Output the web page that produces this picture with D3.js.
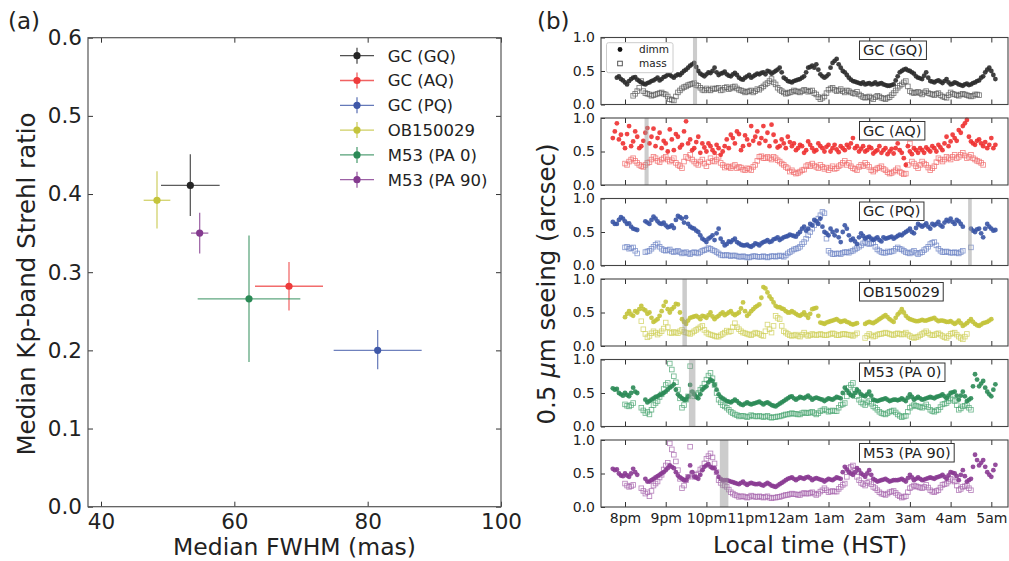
<!DOCTYPE html>
<html>
<head>
<meta charset="utf-8">
<script src="https://cdn.jsdelivr.net/npm/d3@7"></script>
<style>
  body { margin: 0; background: #fff; }
  text { font-family: "DejaVu Sans", sans-serif; fill: #222; }
</style>
</head>
<body>
<svg id="fig" width="1009" height="561"></svg>
<script>
// ---------- panel (a) data
var targets = ["GC (GQ)", "GC (AQ)", "GC (PQ)", "OB150029", "M53 (PA 0)", "M53 (PA 90)"];
var targetColors = ["#262626", "#ee3b3b", "#3f58a8", "#c4c43c", "#2b8a56", "#843a8f"];
var fwhm = [53.4, 68.2, 81.5, 48.4, 62.2, 54.8];
var fwhmErr = [4.4, 5.1, 6.6, 2.0, 7.7, 1.3];
var strehl = [0.411, 0.282, 0.200, 0.392, 0.266, 0.350];
var strehlErrHi = [0.040, 0.031, 0.026, 0.037, 0.081, 0.026];
var strehlErrLo = [0.039, 0.031, 0.024, 0.036, 0.081, 0.026];
var fwhmTicks = [40, 60, 80, 100];
var strehlTicks = [0.0, 0.1, 0.2, 0.3, 0.4, 0.5, 0.6];

// ---------- panel (b) data : seeing (arcsec), samples every 0.1 h,
// "Mid" arrays are the samples taken half way (0.05 h later)
var cadence = 0.1;
var hourTicks = [20, 21, 22, 23, 24, 25, 26, 27, 28, 29];
var hourLabels = ["8pm", "9pm", "10pm", "11pm", "12am", "1am", "2am", "3am", "4am", "5am"];
var seeingTicks = [0.0, 0.5, 1.0];
var dimmColors = ["#2b2b2b", "#ee3030", "#3a55a5", "#c3c33a", "#2a8a55", "#8a3a92"];
var massColors = ["#5a5a5a", "#f06a6a", "#6f86c6", "#cfcf5a", "#4ea874", "#a866ae"];
var dimmStart = [19.8, 19.7, 19.7, 20.0, 19.7, 19.7];
var massStart = [20.2, 20.0, 20.0, 20.4, 20.0, 20.0];
var bands = [[21.67, 21.77], [20.48, 20.58], [28.43, 28.52], [21.41, 21.52], [21.57, 21.73], [22.33, 22.54]];

var dimmGQ = [0.40,0.38,0.33,0.35,0.40,0.37,0.33,0.30,0.33,0.36,
  0.40,0.38,0.42,0.44,0.40,0.45,0.47,0.52,0.58,0.62,
  0.50,0.44,0.45,0.47,0.55,0.44,0.47,0.45,0.42,0.47,
  0.40,0.37,0.42,0.40,0.44,0.45,0.48,0.50,0.46,0.50,
  0.55,0.40,0.35,0.33,0.36,0.38,0.42,0.55,0.58,0.60,
  0.45,0.40,0.45,0.62,0.68,0.55,0.48,0.40,0.35,0.33,
  0.31,0.30,0.32,0.31,0.30,0.32,0.29,0.28,0.30,0.42,
  0.50,0.53,0.50,0.46,0.40,0.38,0.48,0.35,0.33,0.36,
  0.32,0.38,0.30,0.33,0.30,0.28,0.31,0.30,0.33,0.36,
  0.42,0.52,0.50,0.38];
var dimmGQMid = [0.42,0.36,0.30,0.38,0.41,0.35,0.31,0.32,0.35,0.38,
  0.36,0.41,0.45,0.42,0.43,0.44,0.50,0.55,0.60,0.56,
  0.46,0.42,0.48,0.50,0.48,0.46,0.49,0.43,0.45,0.44,
  0.38,0.40,0.44,0.42,0.46,0.47,0.45,0.49,0.48,0.52,
  0.48,0.38,0.34,0.35,0.37,0.40,0.48,0.56,0.55,0.52,
  0.42,0.42,0.55,0.65,0.60,0.50,0.44,0.37,0.34,0.32,
  0.33,0.31,0.30,0.33,0.31,0.30,0.28,0.29,0.36,0.48,
  0.52,0.51,0.48,0.42,0.39,0.43,0.40,0.34,0.35,0.34,
  0.35,0.33,0.31,0.32,0.29,0.30,0.29,0.32,0.35,0.40,
  0.48,0.55,0.44];
var massGQ = [0.13,0.20,0.35,0.17,0.15,0.14,0.16,0.18,0.15,0.08,
  0.06,0.18,0.24,0.27,0.30,0.32,0.28,0.22,0.24,0.21,
  0.23,0.25,0.22,0.26,0.24,0.27,0.22,0.20,0.19,0.21,
  0.20,0.22,0.27,0.32,0.38,0.30,0.22,0.18,0.17,0.19,
  0.20,0.18,0.22,0.19,0.21,0.15,0.08,0.12,0.22,0.25,
  0.20,0.23,0.18,0.20,0.17,0.19,0.13,0.10,0.12,0.08,
  0.13,0.10,0.08,0.11,0.17,0.25,0.30,0.35,0.20,0.17,
  0.19,0.15,0.20,0.16,0.14,0.17,0.12,0.10,0.18,0.15,
  0.13,0.16,0.14,0.12,0.15,0.14];
var massGQMid = [0.16,0.25,0.20,0.16,0.13,0.15,0.17,0.16,0.12,0.07,
  0.12,0.21,0.26,0.29,0.31,0.29,0.25,0.21,0.22,0.24,
  0.24,0.21,0.25,0.23,0.26,0.24,0.21,0.18,0.20,0.18,
  0.23,0.25,0.30,0.35,0.33,0.25,0.20,0.16,0.18,0.21,
  0.19,0.20,0.21,0.20,0.17,0.11,0.10,0.17,0.24,0.22,
  0.21,0.20,0.21,0.18,0.16,0.15,0.11,0.11,0.10,0.11,
  0.12,0.09,0.10,0.14,0.21,0.28,0.33,0.27,0.18,0.18,
  0.17,0.18,0.17,0.15,0.16,0.14,0.11,0.14,0.16,0.14,
  0.15,0.15,0.13,0.13,0.15];

var dimmAQ = [0.70,0.92,0.75,0.55,0.88,0.65,0.72,0.58,0.78,0.62,
  0.84,0.70,0.55,0.62,0.83,0.52,0.72,0.60,0.95,0.68,
  0.55,0.72,0.62,0.50,0.58,0.48,0.55,0.50,0.68,0.75,
  0.62,0.76,0.58,0.68,0.88,0.72,0.62,0.88,0.78,0.90,
  0.65,0.58,0.62,0.72,0.58,0.52,0.60,0.48,0.65,0.55,
  0.52,0.58,0.50,0.60,0.55,0.53,0.58,0.52,0.56,0.70,
  0.58,0.54,0.50,0.57,0.47,0.52,0.48,0.55,0.50,0.47,
  0.62,0.48,0.30,0.50,0.55,0.48,0.52,0.56,0.50,0.55,
  0.60,0.52,0.72,0.65,0.70,0.82,0.88,0.97,0.65,0.60,
  0.68,0.58,0.55,0.70,0.60];
var dimmAQMid = [0.80,0.68,0.62,0.76,0.58,0.80,0.55,0.66,0.85,0.72,
  0.58,0.78,0.66,0.50,0.68,0.76,0.56,0.80,0.62,0.52,
  0.64,0.48,0.56,0.62,0.52,0.60,0.45,0.58,0.55,0.70,
  0.80,0.52,0.74,0.60,0.66,0.80,0.70,0.66,0.58,0.75,
  0.56,0.68,0.55,0.64,0.62,0.55,0.58,0.52,0.60,0.50,
  0.62,0.55,0.57,0.50,0.60,0.49,0.55,0.60,0.62,0.55,
  0.50,0.58,0.52,0.55,0.50,0.58,0.52,0.46,0.54,0.55,
  0.52,0.40,0.58,0.46,0.52,0.55,0.48,0.53,0.58,0.50,
  0.56,0.62,0.58,0.75,0.66,0.78,0.92,0.72,0.62,0.66,
  0.62,0.64,0.60,0.55];
var massAQ = [0.32,0.35,0.40,0.33,0.28,0.30,0.34,0.42,0.36,0.38,
  0.42,0.35,0.40,0.30,0.25,0.42,0.45,0.35,0.30,0.38,
  0.28,0.40,0.35,0.42,0.30,0.28,0.25,0.30,0.27,0.23,
  0.25,0.22,0.30,0.42,0.40,0.42,0.38,0.40,0.35,0.30,
  0.25,0.22,0.17,0.20,0.23,0.30,0.32,0.27,0.30,0.24,
  0.22,0.28,0.25,0.30,0.36,0.33,0.25,0.22,0.30,0.33,
  0.27,0.20,0.25,0.28,0.22,0.17,0.20,0.25,0.18,0.17,
  0.62,0.32,0.25,0.35,0.30,0.22,0.28,0.40,0.35,0.42,
  0.38,0.45,0.42,0.48,0.40,0.45,0.38,0.35,0.30];
var massAQMid = [0.30,0.38,0.36,0.30,0.27,0.33,0.38,0.40,0.34,0.40,
  0.38,0.37,0.33,0.28,0.35,0.40,0.38,0.32,0.35,0.32,
  0.34,0.36,0.38,0.33,0.26,0.27,0.28,0.25,0.26,0.22,
  0.24,0.27,0.36,0.43,0.40,0.40,0.42,0.37,0.32,0.27,
  0.20,0.19,0.18,0.22,0.28,0.28,0.29,0.25,0.27,0.26,
  0.25,0.24,0.28,0.33,0.30,0.28,0.24,0.27,0.28,0.30,
  0.22,0.23,0.26,0.24,0.19,0.18,0.22,0.20,0.16,0.30,
  0.35,0.28,0.30,0.32,0.26,0.25,0.34,0.38,0.38,0.40,
  0.42,0.40,0.45,0.44,0.42,0.40,0.36,0.33];

var dimmPQ = [0.65,0.62,0.72,0.66,0.63,0.55,0.53,null,0.66,0.62,
  0.73,0.66,0.62,0.60,0.58,0.56,0.74,0.70,0.72,0.58,
  0.55,0.50,0.40,0.35,0.42,0.38,0.55,0.35,0.32,0.35,
  0.40,0.33,0.30,0.31,0.28,0.33,0.30,0.35,0.38,0.36,
  0.40,0.38,0.42,0.44,0.45,0.43,0.50,0.58,0.55,0.60,
  0.66,0.70,0.50,0.45,0.50,0.52,0.35,0.60,0.45,0.40,
  0.32,0.48,0.40,0.43,0.38,0.42,0.36,0.40,0.42,0.40,
  0.44,0.45,0.50,0.55,0.48,0.62,0.58,0.63,0.55,0.60,
  0.65,0.58,0.68,0.70,0.62,0.66,0.58,null,0.55,0.50,
  0.55,0.42,0.62,0.55,0.53];
var dimmPQMid = [0.62,0.68,0.70,0.62,0.58,0.54,null,null,0.64,0.68,
  0.70,0.63,0.64,0.57,0.60,0.68,0.72,0.64,0.62,0.56,
  0.52,0.45,0.38,0.40,0.45,0.48,0.40,0.30,0.36,0.38,
  0.35,0.31,0.30,0.29,0.30,0.32,0.33,0.36,0.35,0.39,
  0.42,0.40,0.43,0.46,0.44,0.47,0.55,0.52,0.62,0.68,
  0.62,0.58,0.48,0.55,0.45,0.42,0.50,0.55,0.38,0.36,
  0.42,0.44,0.42,0.40,0.40,0.38,0.42,0.41,0.43,0.42,
  0.46,0.48,0.52,0.50,0.56,0.60,0.60,0.58,0.62,0.62,
  0.60,0.64,0.66,0.65,0.68,0.62,null,null,0.52,0.54,
  0.48,0.55,0.58,0.52];
var massPQ = [0.27,0.25,0.27,0.18,null,0.20,0.22,0.28,0.33,0.25,
  0.22,0.24,0.20,0.22,0.18,0.20,0.17,0.20,0.18,0.22,
  0.24,0.25,0.22,0.18,0.15,0.16,0.14,0.15,0.13,0.14,
  0.12,0.13,0.14,0.13,0.14,0.12,0.14,0.13,0.15,0.13,
  0.18,0.22,0.25,0.28,0.35,0.45,0.55,0.65,0.75,0.78,
  0.22,0.17,0.18,0.17,0.20,0.19,0.22,0.26,0.30,0.35,
  0.32,0.34,0.24,0.20,0.19,0.20,0.22,0.27,0.24,0.20,
  0.18,0.22,0.17,0.20,0.25,0.32,0.35,0.25,0.20,0.21,
  0.19,0.20,0.18,0.22,null,0.27];
var massPQMid = [0.28,0.26,0.22,null,null,0.21,0.25,0.31,0.28,0.23,
  0.23,0.21,0.21,0.20,0.19,0.18,0.19,0.19,0.20,0.23,
  0.26,0.23,0.20,0.16,0.15,0.15,0.15,0.14,0.13,0.13,
  0.12,0.14,0.13,0.13,0.13,0.13,0.14,0.14,0.14,0.15,
  0.20,0.24,0.26,0.32,0.40,0.50,0.60,0.70,0.80,0.40,
  0.19,0.17,0.18,0.19,0.20,0.21,0.24,0.28,0.33,0.33,
  0.33,0.28,0.22,0.19,0.21,0.21,0.25,0.25,0.22,0.19,
  0.20,0.19,0.19,0.23,0.28,0.34,0.30,0.22,0.20,0.20,
  0.19,0.19,0.20,null,null];

var dimmOB = [0.43,0.52,0.45,0.50,0.60,0.53,0.50,0.36,0.40,0.52,
  0.66,0.50,0.58,0.62,0.40,0.33,0.42,0.44,0.43,0.45,
  0.42,0.50,0.40,0.45,0.50,0.48,0.52,0.46,0.50,0.65,
  0.45,0.52,0.58,0.62,0.88,0.80,0.70,0.60,0.58,0.55,
  0.50,0.52,0.48,0.45,0.50,0.42,0.55,0.57,0.35,0.33,
  0.36,0.38,0.40,0.36,0.38,0.35,0.32,0.34,null,0.33,
  0.36,0.34,0.38,0.42,0.46,0.40,0.36,0.47,0.55,0.45,
  0.40,0.38,0.37,0.39,0.38,0.40,0.42,0.37,0.38,0.36,
  0.37,0.33,0.38,0.30,0.34,0.40,0.33,0.30,0.34,0.36,
  0.40];
var dimmOBMid = [0.48,0.47,0.52,0.55,0.55,0.48,0.42,0.38,0.45,0.60,
  0.55,0.55,0.63,0.50,0.36,0.38,0.43,0.45,0.40,0.44,
  0.46,0.44,0.43,0.48,0.46,0.50,0.48,0.48,0.56,0.52,
  0.48,0.55,0.60,0.72,0.86,0.74,0.65,0.58,0.56,0.52,
  0.50,0.50,0.46,0.47,0.46,0.48,0.56,0.45,0.34,0.35,
  0.37,0.39,0.38,0.37,0.36,0.33,0.33,null,null,0.35,
  0.35,0.36,0.40,0.44,0.43,0.38,0.42,0.50,0.50,0.42,
  0.39,0.37,0.38,0.38,0.39,0.41,0.39,0.38,0.37,0.36,
  0.35,0.35,0.34,0.32,0.37,0.36,0.31,0.32,0.35,0.38];
var massOB = [0.37,0.18,0.15,0.22,0.17,0.22,0.35,0.20,0.21,0.19,
  0.24,0.20,0.18,0.22,0.26,0.30,0.20,0.17,0.15,0.14,
  0.18,0.23,0.22,0.34,0.25,0.20,0.18,0.16,0.20,0.18,
  0.15,0.32,0.20,0.45,0.40,0.22,0.18,0.15,0.17,0.14,
  0.20,0.15,0.18,0.16,0.18,0.16,0.17,0.19,0.16,0.17,
  0.18,0.17,0.15,0.19,null,0.12,0.18,0.14,0.17,0.18,
  0.20,0.18,0.16,0.19,0.17,0.20,0.15,0.12,0.14,0.18,
  0.22,0.17,0.16,0.19,0.15,0.12,0.18,0.20,0.14,0.10,
  0.18];
var massOBMid = [0.25,0.13,0.19,0.20,0.19,0.26,0.28,0.19,0.20,0.22,
  0.21,0.19,0.20,0.24,0.28,0.24,0.18,0.16,0.14,0.16,
  0.20,0.21,0.28,0.28,0.22,0.19,0.17,0.18,0.19,0.16,
  0.22,0.25,0.30,0.42,0.30,0.20,0.16,0.16,0.15,0.17,
  0.17,0.16,0.17,0.17,0.17,0.16,0.18,0.18,0.16,0.18,
  0.17,0.16,0.17,null,null,0.15,0.16,0.15,0.18,0.19,
  0.19,0.17,0.18,0.18,0.18,0.17,0.13,0.13,0.16,0.20,
  0.19,0.16,0.18,0.17,0.13,0.15,0.19,0.17,0.12,0.14];

var dimmM53a = [0.57,0.56,0.48,0.50,0.45,0.58,0.50,null,0.40,0.38,
  0.42,0.45,0.48,0.52,0.58,0.63,0.48,0.42,0.40,0.62,
  0.48,0.42,0.55,0.60,0.70,0.62,0.48,0.42,0.38,0.36,
  0.40,0.35,0.32,0.36,0.33,0.35,0.37,0.33,0.36,0.32,
  0.30,0.34,0.38,0.42,0.45,0.40,0.44,0.42,0.46,0.40,
  0.43,0.41,0.38,0.42,0.40,0.44,0.42,0.58,0.50,0.45,
  0.55,0.48,0.45,0.52,0.40,0.38,0.40,0.42,0.38,0.40,
  0.39,0.42,0.38,0.48,0.40,0.44,0.40,0.42,0.44,0.42,
  0.45,0.48,0.42,0.50,0.52,0.40,0.52,0.38,0.42,0.78,
  0.60,0.68,0.52,0.45,0.63];
var dimmM53aMid = [0.55,0.50,0.46,0.47,0.50,0.52,null,null,0.36,0.40,
  0.44,0.47,0.50,0.55,0.60,0.55,0.45,0.40,0.45,0.52,
  0.44,0.48,0.58,0.66,0.68,0.55,0.44,0.40,0.37,0.38,
  0.38,0.33,0.34,0.34,0.34,0.36,0.35,0.35,0.34,0.31,
  0.32,0.36,0.40,0.44,0.42,0.42,0.43,0.44,0.43,0.42,
  0.42,0.40,0.40,0.41,0.42,0.43,0.50,0.54,0.47,0.50,
  0.52,0.46,0.48,0.46,0.39,0.39,0.41,0.40,0.39,0.40,
  0.40,0.40,0.43,0.44,0.42,0.42,0.41,0.43,0.43,0.44,
  0.46,0.45,0.46,0.51,0.46,0.46,0.45,0.40,0.60,0.70,
  0.64,0.58,0.48,0.55];
var massM53a = [0.33,0.30,0.35,null,0.28,0.20,0.18,0.32,0.38,0.48,
  0.62,0.94,0.75,0.55,0.28,0.40,0.90,0.45,0.50,0.58,
  0.70,0.80,0.62,0.40,0.32,0.28,0.22,0.18,0.15,0.16,
  0.14,0.17,0.15,0.16,0.14,0.16,0.13,0.14,0.15,0.17,
  0.18,0.20,0.19,0.18,0.21,0.20,0.22,0.18,0.23,0.26,
  0.22,0.24,0.23,0.32,0.35,0.58,0.65,0.45,0.36,0.32,
  0.38,0.30,0.25,0.20,0.18,0.22,0.24,0.18,0.14,0.16,
  0.28,0.32,0.30,0.28,0.33,0.25,0.22,0.25,0.33,0.35,
  0.42,0.38,0.25,0.30,0.32,0.25];
var massM53aMid = [0.31,0.32,null,null,0.24,0.22,0.25,0.35,0.44,0.56,
  0.65,0.85,0.66,0.42,0.32,0.45,0.50,0.48,0.55,0.64,
  0.76,0.72,0.50,0.36,0.30,0.25,0.20,0.17,0.16,0.15,
  0.15,0.16,0.15,0.15,0.15,0.14,0.14,0.15,0.16,0.18,
  0.19,0.19,0.18,0.20,0.20,0.21,0.20,0.20,0.24,0.24,
  0.23,0.23,0.28,0.33,0.45,0.62,0.55,0.40,0.34,0.36,
  0.34,0.28,0.22,0.19,0.20,0.23,0.21,0.16,0.15,0.22,
  0.30,0.31,0.29,0.30,0.29,0.23,0.24,0.29,0.34,0.38,
  0.40,0.32,0.27,0.31,0.28];

var dimmM53b = [0.57,0.56,0.47,0.50,0.45,0.57,0.48,null,0.42,0.38,
  0.42,0.46,0.50,0.55,0.62,0.58,0.47,0.42,0.40,0.62,
  0.45,0.42,0.55,0.62,0.60,0.58,0.45,0.40,0.40,0.38,
  0.36,0.34,0.38,0.33,0.36,0.34,0.35,0.32,0.36,0.32,
  0.30,0.34,0.38,0.42,0.44,0.40,0.44,0.42,0.45,0.40,
  0.43,0.41,0.38,0.42,0.40,0.44,0.42,0.60,0.52,0.48,
  0.58,0.50,0.45,0.55,0.42,0.38,0.40,0.42,0.38,0.40,
  0.40,0.42,0.38,0.48,0.40,0.44,0.40,0.42,0.44,0.42,
  0.45,0.48,0.42,0.52,0.50,0.40,0.55,0.38,0.42,0.78,
  0.62,0.70,0.52,0.45,0.63];
var dimmM53bMid = [0.55,0.50,0.46,0.47,0.50,0.52,null,null,0.38,0.40,
  0.44,0.48,0.52,0.58,0.60,0.52,0.44,0.40,0.45,0.52,
  0.44,0.48,0.60,0.64,0.58,0.52,0.42,0.40,0.39,0.37,
  0.35,0.36,0.35,0.35,0.35,0.34,0.33,0.34,0.34,0.31,
  0.32,0.36,0.40,0.43,0.42,0.42,0.43,0.44,0.43,0.42,
  0.42,0.40,0.40,0.41,0.42,0.43,0.52,0.56,0.50,0.52,
  0.55,0.48,0.50,0.48,0.40,0.39,0.41,0.40,0.39,0.40,
  0.41,0.40,0.43,0.44,0.42,0.42,0.41,0.43,0.43,0.44,
  0.46,0.45,0.47,0.51,0.46,0.48,0.46,0.40,0.60,0.70,
  0.66,0.60,0.48,0.55];
var massM53b = [0.35,0.30,0.33,null,0.28,0.20,0.16,0.32,0.38,0.48,
  0.62,0.95,0.78,0.55,0.28,0.40,0.90,0.45,0.50,0.58,
  0.72,0.80,0.65,0.40,0.33,0.30,0.22,0.18,0.15,0.16,
  0.14,0.17,0.15,0.16,0.14,0.16,0.13,0.14,0.15,0.17,
  0.18,0.20,0.19,0.18,0.21,0.20,0.22,0.18,0.23,0.28,
  0.22,0.24,0.23,0.30,0.35,0.58,0.62,0.45,0.36,0.32,
  0.38,0.30,0.25,0.20,0.18,0.22,0.24,0.18,0.14,0.16,
  0.28,0.32,0.30,0.28,0.33,0.25,0.22,0.25,0.33,0.35,
  0.42,0.38,0.25,0.30,0.32,0.25];
var massM53bMid = [0.32,0.31,null,null,0.24,0.22,0.24,0.35,0.44,0.56,
  0.66,0.86,0.68,0.42,0.32,0.45,0.50,0.48,0.56,0.65,
  0.76,0.74,0.52,0.36,0.32,0.26,0.20,0.17,0.16,0.15,
  0.15,0.16,0.15,0.15,0.15,0.14,0.14,0.15,0.16,0.18,
  0.19,0.19,0.18,0.20,0.20,0.21,0.20,0.20,0.25,0.25,
  0.23,0.23,0.27,0.33,0.45,0.60,0.54,0.40,0.34,0.36,
  0.34,0.28,0.22,0.19,0.20,0.23,0.21,0.16,0.15,0.22,
  0.30,0.31,0.29,0.30,0.29,0.23,0.24,0.29,0.34,0.38,
  0.40,0.32,0.27,0.31,0.28];

var dimmSeries = [dimmGQ, dimmAQ, dimmPQ, dimmOB, dimmM53a, dimmM53b];
var dimmMidSeries = [dimmGQMid, dimmAQMid, dimmPQMid, dimmOBMid, dimmM53aMid, dimmM53bMid];
var massSeries = [massGQ, massAQ, massPQ, massOB, massM53a, massM53b];
var massMidSeries = [massGQMid, massAQMid, massPQMid, massOBMid, massM53aMid, massM53bMid];

var svg = d3.select("#fig");

function styleAxis(g, size) {
  g.select(".domain").remove();
  g.selectAll(".tick line").attr("stroke", "#333").attr("stroke-width", 1);
  g.selectAll(".tick text").attr("font-size", size).attr("fill", "#222")
    .attr("font-family", "DejaVu Sans, sans-serif");
}

// turn a value list into {t, v} samples, skipping gaps
function samples(vals, t0) {
  return vals.map(function(v, k) { return {t: t0 + k * cadence, v: v}; })
    .filter(function(d) { return d.v !== null; });
}

// =================== panel (a)
var pa = {left: 88, right: 501, top: 37.7, bottom: 506.7};
var xA = d3.scaleLinear().domain([38.05, 100]).range([pa.left, pa.right]);
var yA = d3.scaleLinear().domain([0, 0.6]).range([pa.bottom, pa.top]);
var gA = svg.append("g");

gA.append("g").attr("transform", "translate(0," + pa.bottom + ")")
  .call(d3.axisBottom(xA).tickValues(fwhmTicks).tickSizeInner(-5).tickSizeOuter(0)
    .tickPadding(7).tickFormat(d3.format("d")))
  .call(styleAxis, 21.5);
gA.append("g").attr("transform", "translate(0," + pa.top + ")")
  .call(d3.axisTop(xA).tickValues(fwhmTicks).tickSizeInner(-5).tickSizeOuter(0).tickFormat(""))
  .call(styleAxis, 21.5);
gA.append("g").attr("transform", "translate(" + pa.left + ",0)")
  .call(d3.axisLeft(yA).tickValues(strehlTicks).tickSizeInner(-5).tickSizeOuter(0)
    .tickPadding(6).tickFormat(d3.format(".1f")))
  .call(styleAxis, 21.5);
gA.append("g").attr("transform", "translate(" + pa.right + ",0)")
  .call(d3.axisRight(yA).tickValues(strehlTicks).tickSizeInner(-5).tickSizeOuter(0).tickFormat(""))
  .call(styleAxis, 21.5);
gA.append("rect").attr("x", pa.left).attr("y", pa.top)
  .attr("width", pa.right - pa.left).attr("height", pa.bottom - pa.top)
  .attr("fill", "none").attr("stroke", "#555").attr("stroke-width", 1.2);

var pts = gA.selectAll(".pt").data(targets).enter().append("g");
pts.append("line")
  .attr("x1", function(d, i) { return xA(fwhm[i] - fwhmErr[i]); })
  .attr("x2", function(d, i) { return xA(fwhm[i] + fwhmErr[i]); })
  .attr("y1", function(d, i) { return yA(strehl[i]); })
  .attr("y2", function(d, i) { return yA(strehl[i]); })
  .attr("stroke", function(d, i) { return targetColors[i]; })
  .attr("stroke-width", 1.3).attr("opacity", 0.75);
pts.append("line")
  .attr("x1", function(d, i) { return xA(fwhm[i]); })
  .attr("x2", function(d, i) { return xA(fwhm[i]); })
  .attr("y1", function(d, i) { return yA(strehl[i] - strehlErrLo[i]); })
  .attr("y2", function(d, i) { return yA(strehl[i] + strehlErrHi[i]); })
  .attr("stroke", function(d, i) { return targetColors[i]; })
  .attr("stroke-width", 1.3).attr("opacity", 0.75);
pts.append("circle")
  .attr("cx", function(d, i) { return xA(fwhm[i]); })
  .attr("cy", function(d, i) { return yA(strehl[i]); })
  .attr("r", 3.6)
  .attr("fill", function(d, i) { return targetColors[i]; });

// legend (a)
var leg = gA.selectAll(".leg").data(targets).enter().append("g")
  .attr("transform", function(d, i) { return "translate(340," + (55.7 + 24.8 * i) + ")"; });
leg.append("line").attr("x1", 0).attr("x2", 34).attr("y1", 0).attr("y2", 0)
  .attr("stroke", function(d, i) { return targetColors[i]; }).attr("stroke-width", 1.3).attr("opacity", 0.8);
leg.append("line").attr("x1", 17).attr("x2", 17).attr("y1", -8).attr("y2", 8)
  .attr("stroke", function(d, i) { return targetColors[i]; }).attr("stroke-width", 1.3).attr("opacity", 0.8);
leg.append("circle").attr("cx", 17).attr("cy", 0).attr("r", 3.6)
  .attr("fill", function(d, i) { return targetColors[i]; });
leg.append("text").attr("x", 47.7).attr("y", 0).attr("dy", "0.36em")
  .attr("font-size", 16.5).text(function(d) { return d; });

gA.append("text").attr("transform", "translate(35,284) rotate(-90)")
  .attr("text-anchor", "middle").attr("font-size", 24.5).text("Median Kp-band Strehl ratio");
gA.append("text").attr("x", (pa.left + pa.right) / 2).attr("y", 555)
  .attr("text-anchor", "middle").attr("font-size", 23.5).text("Median FWHM (mas)");
gA.append("text").attr("x", 8).attr("y", 29).attr("font-size", 23).text("(a)");

// =================== panel (b)
var pb = {left: 601, right: 1008, top0: 37.5, step: 80.5, h: 67};
var xB = d3.scaleLinear().domain([19.41, 29.41]).range([pb.left, pb.right]);
var gB = svg.append("g");

dimmSeries.forEach(function(dimm, p) {
  var top = pb.top0 + pb.step * p;
  var yB = d3.scaleLinear().domain([0, 1]).range([top + pb.h, top]);
  var g = gB.append("g");

  var dimmPts = samples(dimm, dimmStart[p]).concat(samples(dimmMidSeries[p], dimmStart[p] + cadence / 2));
  var massPts = samples(massSeries[p], massStart[p]).concat(samples(massMidSeries[p], massStart[p] + cadence / 2));

  g.selectAll(".mass").data(massPts).enter().append("rect")
    .attr("x", function(d) { return xB(d.t) - 2.3; })
    .attr("y", function(d) { return yB(d.v) - 2.3; })
    .attr("width", 4.6).attr("height", 4.6)
    .attr("fill", "none").attr("stroke", massColors[p]).attr("stroke-width", 0.85).attr("opacity", 0.8);
  g.selectAll(".dimm").data(dimmPts).enter().append("circle")
    .attr("cx", function(d) { return xB(d.t); })
    .attr("cy", function(d) { return yB(d.v); })
    .attr("r", 2.4).attr("fill", dimmColors[p]).attr("opacity", 0.9);

  g.append("rect").attr("x", xB(bands[p][0])).attr("y", top)
    .attr("width", xB(bands[p][1]) - xB(bands[p][0])).attr("height", pb.h)
    .attr("fill", "#9a9a9a").attr("opacity", 0.5);

  g.append("g").attr("transform", "translate(0," + (top + pb.h) + ")")
    .call(d3.axisBottom(xB).tickValues(hourTicks).tickSizeInner(-5).tickSizeOuter(0).tickPadding(6)
      .tickFormat(function(d, i) { return p === 5 ? hourLabels[i] : ""; }))
    .call(styleAxis, 14);
  g.append("g").attr("transform", "translate(0," + top + ")")
    .call(d3.axisTop(xB).tickValues(hourTicks).tickSizeInner(-5).tickSizeOuter(0).tickFormat(""))
    .call(styleAxis, 14);
  g.append("g").attr("transform", "translate(" + pb.left + ",0)")
    .call(d3.axisLeft(yB).tickValues(seeingTicks).tickSizeInner(-4).tickSizeOuter(0).tickPadding(6)
      .tickFormat(d3.format(".1f")))
    .call(styleAxis, 14);
  g.append("rect").attr("x", pb.left).attr("y", top)
    .attr("width", pb.right - pb.left).attr("height", pb.h)
    .attr("fill", "none").attr("stroke", "#444").attr("stroke-width", 1.1);

  // target label box
  var box = g.append("rect");
  var lab = g.append("text").attr("x", 863).attr("y", top + 17.5)
    .attr("font-size", 14.5).text(targets[p]);
  var bb = lab.node().getBBox();
  box.attr("x", bb.x - 3.5).attr("y", top + 3.5)
    .attr("width", bb.width + 7).attr("height", 18.5)
    .attr("fill", "#fff").attr("stroke", "#333").attr("stroke-width", 1);
});

// legend (b)
var lb = gB.append("g");
lb.append("rect").attr("x", 606.5).attr("y", 42.7).attr("width", 66.5).attr("height", 30)
  .attr("rx", 2).attr("fill", "#fff").attr("fill-opacity", 0.8).attr("stroke", "#ccc");
lb.append("circle").attr("cx", 620).attr("cy", 49.5).attr("r", 2.4).attr("fill", "#111");
lb.append("rect").attr("x", 617.7).attr("y", 61.2).attr("width", 4.6).attr("height", 4.6)
  .attr("fill", "none").attr("stroke", "#444").attr("stroke-width", 0.9);
lb.append("text").attr("x", 639).attr("y", 49.5).attr("dy", "0.35em").attr("font-size", 10.5).text("dimm");
lb.append("text").attr("x", 639).attr("y", 63.5).attr("dy", "0.35em").attr("font-size", 10.5).text("mass");

var yl = gB.append("text").attr("transform", "translate(555,284) rotate(-90)")
  .attr("text-anchor", "middle").attr("font-size", 24.5);
yl.append("tspan").text("0.5 ");
yl.append("tspan").attr("font-style", "italic").text("μ");
yl.append("tspan").text("m seeing (arcsec)");
gB.append("text").attr("x", 810).attr("y", 553)
  .attr("text-anchor", "middle").attr("font-size", 23.5).text("Local time (HST)");
gB.append("text").attr("x", 537).attr("y", 29).attr("font-size", 23).text("(b)");
</script>
</body>
</html>
